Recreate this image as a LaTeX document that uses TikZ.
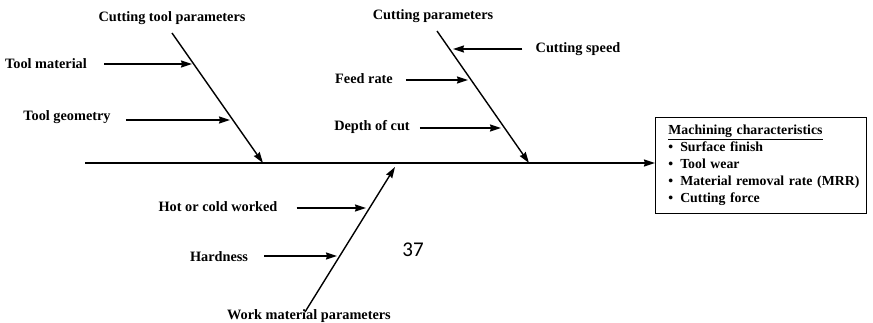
\documentclass[tikz,border=0pt]{standalone}
\usepackage{fontspec}
\setmainfont{Liberation Serif}
\newfontfamily\numfont{Carlito}
\usetikzlibrary{arrows.meta}
\newcommand\bitem{\hspace*{13pt}\textbullet\hspace{7pt}}
\begin{document}
\begin{tikzpicture}[x=1pt,y=-1pt,
  lbl/.style={font=\fontsize{14.3}{16}\selectfont\bfseries, inner sep=0pt},
  tip/.style={-{Stealth[length=11pt,width=7pt,inset=1pt]}},
  bone/.style={tip, line width=1.4pt},
  sub/.style={tip, line width=1.4pt},
  spine/.style={tip, line width=1.8pt},
  mbox/.style={draw, line width=0.9pt, anchor=north west, minimum height=96pt,
    text width=211pt, inner xsep=0pt, inner ysep=0pt, align=left,
    font=\fontsize{13.8}{17}\selectfont\bfseries}]
\useasboundingbox (0,0) rectangle (873,323);

% labels
\node[lbl] (ctp) at (172,18) {Cutting tool parameters};
\node[lbl] (tm) at (46,64) {Tool material};
\node[lbl] (tg) at (67,117) {Tool geometry};
\node[lbl] (cp) at (433,16) {Cutting parameters};
\node[lbl] (csp) at (578,49) {Cutting speed};
\node[lbl] (fr) at (364,79) {Feed rate};
\node[lbl] (doc) at (372,127) {Depth of cut};
\node[lbl] (hcw) at (218,207) {Hot or cold worked};
\node[lbl] (hd) at (219,257) {Hardness};
\node[lbl] (wmp) at (309,316) {Work material parameters};
\node[font=\numfont\fontsize{21}{24}\selectfont, inner sep=0pt] (pg) at (413,250) {37};

% effect box
\node[mbox] (mc) at (655,117) {\hspace*{13pt}\underline{Machining characteristics}\\
\bitem Surface finish\\
\bitem Tool wear\\
\bitem Material removal rate (MRR)\\
\bitem Cutting force};

% spine
\coordinate (s0) at (85,163);
\draw[spine] (s0) -- (s0 -| mc.west);

% branch 1
\coordinate (b1t) at (172,33);
\coordinate (b1b) at (263,163);
\draw[bone] (b1t) -- (b1b);
\coordinate (b1a) at (192,64);
\coordinate (b1c) at (230,120);
\draw[sub, shorten <=17pt] (tm.east |- b1a) -- (b1a);
\draw[sub, shorten <=15pt] (tg.east |- b1c) -- (b1c);

% branch 2
\coordinate (b2t) at (437,31);
\coordinate (b2b) at (529,163);
\draw[bone] (b2t) -- (b2b);
\coordinate (b2a) at (453,49);
\coordinate (b2c) at (468,80);
\coordinate (b2d) at (501,128);
\draw[sub, shorten <=13pt] (csp.west |- b2a) -- (b2a);
\draw[sub, shorten <=13pt] (fr.east |- b2c) -- (b2c);
\draw[sub, shorten <=10pt] (doc.east |- b2d) -- (b2d);

% branch 3
\coordinate (b3b) at (305,312);
\coordinate (b3t) at (395,167);
\draw[bone] (b3b) -- (b3t);
\coordinate (b3a) at (366,208);
\coordinate (b3c) at (337,256);
\draw[sub, shorten <=19pt] (hcw.east |- b3a) -- (b3a);
\draw[sub, shorten <=16pt] (hd.east |- b3c) -- (b3c);
\end{tikzpicture}
\end{document}
